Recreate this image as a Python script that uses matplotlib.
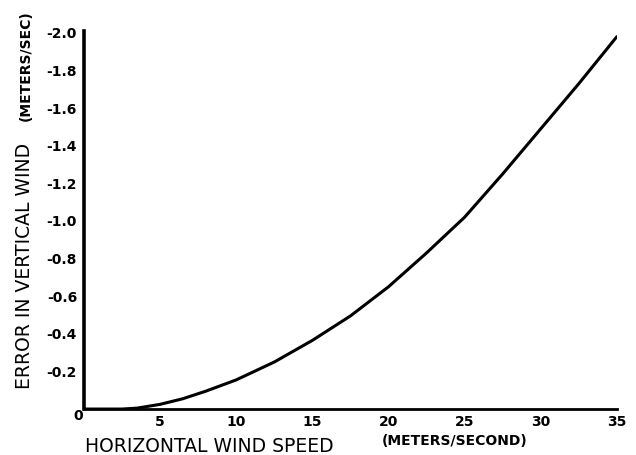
import matplotlib
matplotlib.use("Agg")
import matplotlib.pyplot as plt

# values
wind_speed = [0, 2.5, 3.5, 5, 6.5, 8, 10, 12.5, 15, 17.5, 20, 22.5, 25, 27.5, 30, 32.5, 35]
vert_error = [0, 0, -0.005, -0.025, -0.055, -0.095, -0.155, -0.25, -0.365, -0.495, -0.65, -0.83, -1.02, -1.25, -1.49, -1.73, -1.98]

x_ticks = [5, 10, 15, 20, 25, 30, 35]
y_ticks = [-0.2, -0.4, -0.6, -0.8, -1.0, -1.2, -1.4, -1.6, -1.8, -2.0]

fig = plt.figure(figsize=(6.36, 4.55), dpi=100)
ax = fig.add_axes([0.132, 0.101, 0.838, 0.831])

ax.plot(wind_speed, vert_error, color='black', lw=2.2, solid_capstyle='round')

ax.set_xlim(0, 35)
ax.set_ylim(0, -2.01)

ax.spines['top'].set_visible(False)
ax.spines['right'].set_visible(False)
ax.spines['left'].set_linewidth(2.6)
ax.spines['bottom'].set_linewidth(2.0)

ax.set_xticks(x_ticks)
ax.set_xticklabels([str(v) for v in x_ticks], fontsize=10, fontweight='bold')
ax.set_yticks(y_ticks)
ax.set_yticklabels(['%.1f' % v for v in y_ticks], fontsize=10, fontweight='bold')
ax.tick_params(length=0, pad=5)
ax.tick_params(axis='x', pad=4)

# origin label sits in the corner
fig.text(0.123, 0.085, '0', fontsize=10, fontweight='bold', ha='center', va='center')

fig.text(0.039, 0.415, 'ERROR IN VERTICAL WIND', rotation=90, fontsize=13.5,
         ha='center', va='center')
fig.text(0.041, 0.855, '(METERS/SEC)', rotation=90, fontsize=10, fontweight='bold',
         ha='center', va='center')
fig.text(0.134, 0.018, 'HORIZONTAL WIND SPEED', fontsize=13.5, ha='left', va='center')
fig.text(0.600, 0.031, '(METERS/SECOND)', fontsize=10, fontweight='bold', ha='left', va='center')

fig.savefig('out.png', dpi=100)
